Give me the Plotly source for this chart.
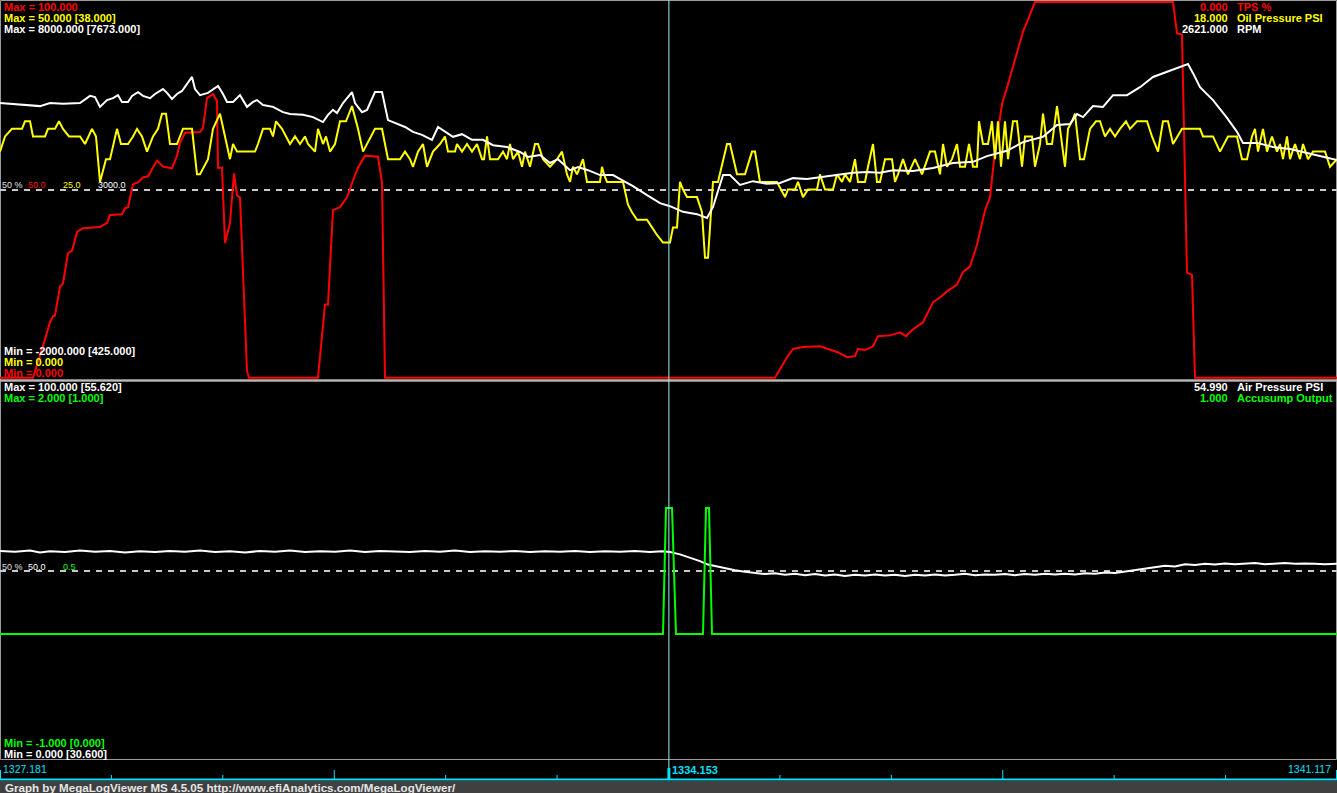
import plotly.graph_objects as go

T_START = 1327.181
T_END = 1341.117
T_CURSOR = 1334.153
N_RECORDS = 1337                      # log records across the visible window
LOG_DT = (T_END - T_START) / N_RECORDS  # seconds per log record

# TPS %  (record number, value)
tps_rec = [0, 33, 45, 50, 53, 55, 60, 63, 68, 72,
           77, 83, 100, 107, 110, 122, 125, 128, 133, 138,
           143, 148, 157, 163, 172, 177, 180, 185, 200, 203,
           207, 213, 217, 218, 222, 225, 230, 234, 237, 240,
           247, 249, 318, 325, 328, 333, 340, 347, 353, 358,
           365, 378, 382, 385, 775, 787, 793, 803, 820, 837,
           847, 855, 858, 865, 873, 878, 890, 900, 906, 913,
           923, 933, 940, 947, 957, 963, 970, 977, 985, 990,
           995, 1002, 1008, 1017, 1023, 1028, 1035, 1173, 1177, 1182,
           1187, 1192, 1195, 1337]
tps_val = [0, 0, 10.3, 14.8, 16.4, 16.6, 24.3, 25.1, 33.2, 33.8,
           38.8, 39.8, 40.1, 41.2, 43.3, 43.5, 45.1, 45.4, 51.5, 52.0,
           53.3, 53.6, 57.8, 56.2, 55.7, 59.1, 62.5, 65.2, 65.4, 66.5,
           74.4, 75.5, 73.6, 55.9, 55.9, 35.9, 41.2, 54.4, 48.5, 48.0,
           1.8, 0, 0, 19.5, 19.5, 44.6, 45.4, 48.0, 52.5, 55.9,
           59.1, 58.8, 52.0, 0, 0, 5.5, 7.7, 8.2, 8.4, 6.9,
           5.5, 5.8, 7.7, 7.4, 8.4, 11.1, 11.3, 12.1, 11.1, 12.9,
           14.8, 20.1, 21.4, 23.0, 24.8, 28.2, 29.6, 35.4, 44.6, 48.0,
           60.4, 72.8, 78.1, 86.8, 92.1, 95.3, 100, 100, 91.6, 91.3,
           28.0, 27.4, 0, 0]

# Oil Pressure PSI
oil_rec = [0, 5, 12, 22, 25, 30, 33, 45, 48, 55,
           59, 63, 69, 80, 85, 92, 96, 100, 106, 110,
           117, 121, 128, 133, 137, 142, 147, 153, 158, 162,
           166, 170, 177, 183, 192, 197, 200, 208, 213, 220,
           225, 230, 233, 237, 255, 258, 263, 270, 273, 276,
           282, 290, 295, 300, 305, 308, 315, 318, 323, 326,
           330, 335, 340, 346, 352, 358, 363, 375, 382, 388,
           400, 405, 410, 413, 418, 423, 427, 433, 440, 445,
           448, 455, 457, 462, 467, 472, 477, 482, 484, 487,
           490, 498, 503, 507, 510, 513, 518, 522, 525, 530,
           535, 538, 543, 550, 557, 562, 567, 570, 573, 577,
           580, 583, 587, 600, 602, 604, 607, 623, 628, 632,
           637, 647, 652, 657, 663, 670, 673, 677, 680, 683,
           687, 697, 702, 705, 708, 713, 718, 727, 730, 737,
           745, 752, 755, 760, 777, 785, 788, 795, 798, 803,
           808, 817, 820, 825, 833, 837, 842, 845, 850, 855,
           858, 865, 868, 873, 877, 880, 885, 892, 895, 898,
           903, 908, 915, 922, 930, 935, 940, 943, 947, 952,
           957, 960, 965, 969, 973, 977, 979, 983, 988, 992,
           995, 998, 1001, 1005, 1008, 1013, 1017, 1022, 1025, 1032,
           1035, 1040, 1043, 1047, 1052, 1057, 1061, 1065, 1068, 1072,
           1075, 1080, 1084, 1090, 1096, 1100, 1105, 1110, 1115, 1120,
           1126, 1130, 1137, 1147, 1152, 1158, 1163, 1168, 1173, 1182,
           1200, 1203, 1213, 1220, 1228, 1237, 1242, 1247, 1252, 1255,
           1258, 1263, 1267, 1272, 1277, 1280, 1283, 1287, 1290, 1295,
           1300, 1303, 1308, 1313, 1325, 1330, 1337]
oil_val = [30, 32, 33, 33, 34, 34, 32, 32, 33, 33,
           34, 33, 32, 32, 31, 33, 32, 26, 29, 29,
           33, 31, 31, 32, 33, 32, 30, 32, 33, 35,
           35, 31, 31, 33, 33, 27, 27, 29, 33, 35,
           32, 29, 31, 30, 30, 31, 33, 33, 32, 34,
           33, 31, 32, 31, 32, 31, 30, 33, 31, 32,
           30, 31, 34, 34, 36, 33, 30, 33, 33, 29,
           29, 30, 29, 28, 30, 31, 28, 30, 31, 32,
           30, 30, 31, 30, 31, 30, 31, 29, 29, 32,
           29, 29, 30, 29, 31, 29, 30, 28, 30, 28,
           31, 31, 29, 28, 29, 30, 27, 26, 28, 27,
           28, 29, 26, 26, 28, 27, 26, 26, 23, 22,
           21, 21, 20, 19, 18, 18, 20, 20, 26, 25,
           24, 24, 22, 16, 16, 26, 26, 31, 31, 27,
           27, 30, 30, 26, 26, 24, 25, 25, 26, 24,
           25, 25, 27, 25, 25, 27, 26, 27, 26, 29,
           26, 26, 28, 31, 26, 26, 29, 29, 26, 27,
           29, 27, 29, 27, 30, 30, 27, 31, 28, 29,
           31, 28, 28, 31, 28, 28, 34, 31, 31, 34,
           29, 34, 28, 34, 29, 34, 34, 28, 32, 32,
           28, 31, 35, 31, 31, 36, 32, 28, 33, 34,
           35, 29, 29, 33, 34, 34, 32, 33, 32, 33,
           34, 33, 34, 34, 32, 30, 34, 34, 31, 33,
           33, 32, 32, 30, 32, 32, 29, 29, 32, 33,
           30, 33, 30, 32, 30, 31, 29, 32, 29, 31,
           29, 31, 29, 30, 30, 28, 29]

# RPM
rpm_rec = [0, 40, 50, 63, 80, 90, 95, 100, 107, 113,
           118, 122, 128, 132, 138, 143, 150, 155, 163, 167,
           172, 177, 182, 187, 192, 195, 200, 208, 218, 223,
           227, 233, 240, 247, 253, 257, 263, 273, 283, 290,
           303, 313, 323, 328, 333, 337, 343, 352, 355, 362,
           367, 375, 382, 388, 395, 405, 413, 422, 432, 438,
           453, 462, 472, 483, 493, 507, 520, 528, 540, 550,
           558, 570, 578, 588, 600, 613, 622, 633, 647, 660,
           670, 683, 697, 707, 713, 723, 730, 740, 753, 767,
           780, 793, 807, 823, 840, 853, 867, 880, 893, 913,
           933, 953, 973, 987, 1007, 1023, 1043, 1057, 1070, 1077,
           1083, 1093, 1103, 1113, 1127, 1140, 1153, 1170, 1188, 1193,
           1200, 1213, 1227, 1237, 1243, 1257, 1273, 1290, 1303, 1317,
           1337]
rpm_val = [5280, 5200, 5280, 5260, 5280, 5470, 5440, 5180, 5360, 5410,
           5490, 5310, 5310, 5470, 5570, 5470, 5410, 5520, 5650, 5550,
           5390, 5520, 5600, 5780, 5970, 5650, 5490, 5550, 5730, 5520,
           5310, 5310, 5490, 5180, 5310, 5360, 5230, 5180, 5040, 4990,
           4970, 4910, 4780, 4970, 5100, 5020, 5280, 5570, 5280, 5040,
           5100, 5570, 5570, 4830, 4750, 4650, 4520, 4440, 4310, 4650,
           4390, 4460, 4310, 4310, 4170, 4120, 3990, 3860, 3910, 3700,
           3800, 3510, 3590, 3510, 3380, 3380, 3250, 3090, 2850, 2640,
           2560, 2410, 2350, 2250, 2540, 3380, 3380, 3120, 3220, 3150,
           3170, 3300, 3280, 3330, 3380, 3440, 3460, 3440, 3510, 3490,
           3570, 3700, 3730, 3880, 4020, 4250, 4390, 4700, 4730, 4990,
           4910, 5200, 5180, 5490, 5490, 5700, 5970, 6130, 6310, 6070,
           5700, 5360, 4890, 4520, 4230, 4230, 4120, 4070, 3990, 3910,
           3780]

# Air Pressure PSI
air_rec = [0, 15, 30, 40, 50, 65, 80, 95, 110, 125,
           140, 155, 170, 185, 200, 215, 230, 245, 260, 275,
           290, 305, 320, 335, 350, 365, 380, 395, 410, 425,
           440, 455, 470, 485, 500, 515, 530, 545, 560, 575,
           590, 605, 620, 635, 650, 662, 670, 680, 690, 700,
           708, 715, 725, 735, 745, 755, 765, 775, 785, 795,
           805, 815, 825, 835, 845, 855, 865, 875, 885, 895,
           905, 915, 925, 935, 945, 955, 965, 975, 985, 995,
           1005, 1015, 1025, 1035, 1045, 1055, 1065, 1075, 1085, 1095,
           1105, 1115, 1125, 1135, 1145, 1155, 1165, 1175, 1185, 1195,
           1205, 1215, 1225, 1235, 1245, 1255, 1265, 1275, 1285, 1295,
           1305, 1315, 1325, 1337]
air_val = [55.3, 55.1, 55.4, 54.9, 55.2, 55.0, 55.4, 55.1, 55.3, 54.9,
           55.2, 55.0, 55.3, 55.1, 55.4, 55.0, 55.2, 54.9, 55.3, 55.1,
           55.4, 55.0, 55.2, 55.1, 55.4, 55.0, 55.3, 55.2, 55.0, 55.3,
           55.1, 55.4, 55.0, 55.2, 55.1, 55.3, 55.0, 55.2, 55.1, 55.3,
           55.0, 55.2, 55.1, 55.3, 55.0, 55.2, 55.0, 54.4, 53.6, 52.6,
           51.7, 51.3, 50.6, 50.2, 49.8, 49.5, 49.2, 49.4, 49.0, 49.3,
           48.9, 49.2, 48.8, 49.1, 48.7, 49.0, 48.8, 49.1, 48.8, 49.0,
           48.7, 49.0, 48.8, 49.1, 48.8, 49.0, 49.3, 48.9, 49.1, 49.0,
           49.2, 48.9, 49.2, 49.0, 49.3, 49.1, 49.3, 49.1, 49.4, 49.3,
           49.6, 49.5, 49.9, 50.2, 50.5, 51.0, 51.4, 51.2, 51.8, 51.6,
           51.9, 51.7, 52.0, 51.8, 51.9, 52.1, 51.8, 52.0, 52.1, 51.9,
           52.0, 51.9, 51.8, 51.9]

# Accusump Output
acc_rec = [0, 663, 666, 672, 676, 703, 706, 709, 712, 1337]
acc_val = [0, 0, 1, 1, 0, 0, 1, 1, 0, 0]

# time-axis tick marks
TICK_COUNT = 12
TALL_TICKS = [0, 3, 9, 12]

for a, b in [(tps_rec, tps_val), (oil_rec, oil_val), (rpm_rec, rpm_val),
             (air_rec, air_val), (acc_rec, acc_val)]:
    assert len(a) == len(b), (len(a), len(b))


def to_time(recs):
    return [T_START + r * LOG_DT for r in recs]


# ---------------- figure ----------------
W, H = 1337, 793
FONT = "Liberation Sans, Arial, sans-serif"
RED, YEL, WHT, GRN = "#ff0000", "#ffff00", "#ffffff", "#00ff00"
CYAN = "#00e0f8"


def px(x):
    return x / W


def py(y):
    return 1 - y / H


fig = go.Figure()
fig.add_trace(go.Scatter(x=to_time(tps_rec), y=tps_val, mode="lines",
                         line=dict(color=RED, width=2), xaxis="x", yaxis="y",
                         hoverinfo="skip"))
fig.add_trace(go.Scatter(x=to_time(oil_rec), y=oil_val, mode="lines",
                         line=dict(color=YEL, width=2), xaxis="x", yaxis="y2",
                         hoverinfo="skip"))
fig.add_trace(go.Scatter(x=to_time(rpm_rec), y=rpm_val, mode="lines",
                         line=dict(color=WHT, width=2), xaxis="x", yaxis="y3",
                         hoverinfo="skip"))
fig.add_trace(go.Scatter(x=to_time(air_rec), y=air_val, mode="lines",
                         line=dict(color=WHT, width=2), xaxis="x", yaxis="y4",
                         hoverinfo="skip"))
fig.add_trace(go.Scatter(x=to_time(acc_rec), y=acc_val, mode="lines",
                         line=dict(color=GRN, width=2), xaxis="x", yaxis="y5",
                         hoverinfo="skip"))

annotations = []


def txt(x, y, s, color, size=11, bold=True, xanchor="left"):
    annotations.append(dict(
        xref="paper", yref="paper", x=px(x), y=py(y),
        text=f"<b>{s}</b>" if bold else s, showarrow=False,
        xanchor=xanchor, yanchor="middle", borderpad=0,
        font=dict(family=FONT, size=size, color=color)))


# top panel labels
txt(3, 7, "Max = 100.000", RED)
txt(3, 18, "Max = 50.000 [38.000]", YEL)
txt(3, 29, "Max = 8000.000 [7673.000]", WHT)
txt(3, 351, "Min = -2000.000 [425.000]", WHT)
txt(3, 362, "Min = 0.000", YEL)
txt(3, 373, "Min = 0.000", RED)
txt(1229, 7, "0.000", RED, xanchor="right")
txt(1229, 18, "18.000", YEL, xanchor="right")
txt(1229, 29, "2621.000", WHT, xanchor="right")
txt(1236, 7, "TPS %", RED)
txt(1236, 18, "Oil Pressure PSI", YEL)
txt(1236, 29, "RPM", WHT)
txt(1, 185, "50 %", "#e0e0e0", size=9, bold=False)
txt(27, 185, "50.0", RED, size=9, bold=False)
txt(62, 185, "25.0", YEL, size=9, bold=False)
txt(97, 185, "3000.0", WHT, size=9, bold=False)

# bottom panel labels
txt(3, 387, "Max = 100.000 [55.620]", WHT)
txt(3, 398, "Max = 2.000 [1.000]", GRN)
txt(3, 743, "Min = -1.000 [0.000]", GRN)
txt(3, 754, "Min = 0.000 [30.600]", WHT)
txt(1229, 387, "54.990", WHT, xanchor="right")
txt(1229, 398, "1.000", GRN, xanchor="right")
txt(1236, 387, "Air Pressure PSI", WHT)
txt(1236, 398, "Accusump Output", GRN)
txt(1, 567, "50 %", "#e0e0e0", size=9, bold=False)
txt(27, 567, "50.0", WHT, size=9, bold=False)
txt(62, 567, "0.5", GRN, size=9, bold=False)

# time axis labels
txt(2, 769, "1327.181", CYAN, size=10.5, bold=False)
txt(671, 770, "1334.153", CYAN, size=11)
txt(1332, 769, "1341.117", CYAN, size=10.5, bold=False, xanchor="right")

# footer
txt(4, 787, "Graph by MegaLogViewer MS 4.5.05 http://www.efiAnalytics.com/MegaLogViewer/",
    "#e6e6e6", size=11.6)

shapes = []
GRAY = "#9a9a9a"
# 50 % dashed guide lines
shapes.append(dict(type="line", xref="x", yref="y", x0=T_START, x1=T_END, y0=50, y1=50,
                   line=dict(color="#c8c8c8", width=2, dash="6px,6px"), layer="below"))
shapes.append(dict(type="line", xref="x", yref="y4", x0=T_START, x1=T_END, y0=50, y1=50,
                   line=dict(color="#c8c8c8", width=2, dash="6px,6px"), layer="below"))
# panel borders (under the traces)
shapes.append(dict(type="rect", xref="paper", yref="paper", x0=px(0.5), x1=px(1336.5),
                   y0=py(380), y1=py(0.5), line=dict(color=GRAY, width=1), layer="below"))
shapes.append(dict(type="rect", xref="paper", yref="paper", x0=px(0.5), x1=px(1336.5),
                   y0=py(759.5), y1=py(381), line=dict(color=GRAY, width=1), layer="below"))
shapes.append(dict(type="line", xref="paper", yref="paper", x0=0, x1=1, y0=py(380.5),
                   y1=py(380.5), line=dict(color="#b8b8b8", width=2), layer="above"))
# footer band
shapes.append(dict(type="rect", xref="paper", yref="paper", x0=0, x1=1, y0=0, y1=py(781),
                   fillcolor="#404040", line=dict(width=0), layer="below"))
# cyan time-axis baseline
shapes.append(dict(type="line", xref="paper", yref="paper", x0=0, x1=1, y0=py(779.5),
                   y1=py(779.5), line=dict(color=CYAN, width=2), layer="above"))
# tick marks
step = (T_END - T_START) / TICK_COUNT
for k in range(TICK_COUNT + 1):
    t = T_START + k * step
    tall = k in TALL_TICKS
    top = 770 if tall else 775
    w = 2 if k in (0, TICK_COUNT) else 1
    shapes.append(dict(type="line", xref="x", yref="paper", x0=t, x1=t,
                       y0=py(779), y1=py(top), line=dict(color=CYAN, width=w),
                       layer="above"))
# cursor
shapes.append(dict(type="line", xref="x", yref="paper", x0=T_CURSOR, x1=T_CURSOR,
                   y0=py(779), y1=py(0), line=dict(color="#9ff0f0", width=1), layer="above"))
shapes.append(dict(type="line", xref="x", yref="paper", x0=T_CURSOR, x1=T_CURSOR,
                   y0=py(779), y1=py(768), line=dict(color=CYAN, width=3), layer="above"))

fig.update_layout(
    width=W, height=H,
    margin=dict(l=0, r=0, t=0, b=0, pad=0),
    paper_bgcolor="#000000",
    plot_bgcolor="rgba(0,0,0,0)",
    showlegend=False,
    xaxis=dict(domain=[0, 1], range=[T_START, T_END], visible=False, anchor="y",
               fixedrange=True),
    # small headroom so the 0 % and 100 % TPS runs stay visible at the panel edges
    yaxis=dict(domain=[1 - 379 / H, 1], range=[-0.3, 100.5], visible=False, anchor="x"),
    yaxis2=dict(overlaying="y", range=[0, 50], visible=False, anchor="x"),
    yaxis3=dict(overlaying="y", range=[-2000, 8000], visible=False, anchor="x"),
    yaxis4=dict(domain=[1 - 760 / H, 1 - 382 / H], range=[0, 100], visible=False,
                anchor="x"),
    yaxis5=dict(overlaying="y4", range=[-1, 2], visible=False, anchor="x"),
    annotations=annotations,
    shapes=shapes,
)

fig.write_html(
    "out.html",
    config={"displayModeBar": False},
    post_script="document.body.style.margin='0';document.body.style.padding='0';"
                "document.body.style.overflow='hidden';"
                "document.documentElement.style.overflow='hidden';",
)
